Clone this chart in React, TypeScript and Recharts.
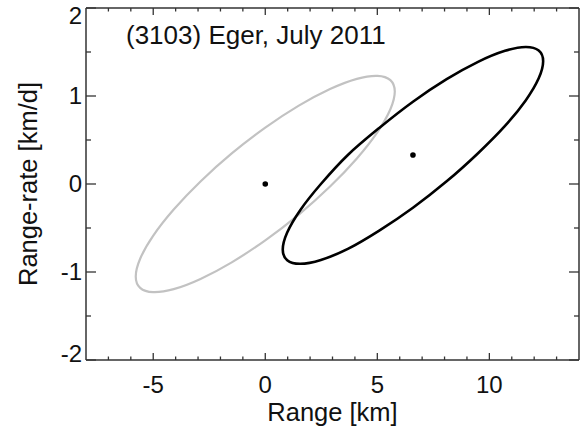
import { ComposedChart, Line, Scatter, XAxis, YAxis } from 'recharts'

// ellipse outlines, [range km, range-rate km/d]
const grayOutline: [number, number][] = [
  [5.78, 1.05], [5.583, 1.18], [5.006, 1.229], [4.087, 1.195], [2.89, 1.079],
  [1.496, 0.89], [0, 0.64], [-1.496, 0.347], [-2.89, 0.029], [-4.087, -0.29],
  [-5.006, -0.589], [-5.583, -0.849], [-5.78, -1.05], [-5.583, -1.18], [-5.006, -1.229],
  [-4.087, -1.195], [-2.89, -1.079], [-1.496, -0.89], [0, -0.64], [1.496, -0.347],
  [2.89, -0.029], [4.087, 0.29], [5.006, 0.589], [5.583, 0.849],
]

const blackOutline: [number, number][] = [
  [12.4, 1.395], [12.202, 1.516], [11.621, 1.557], [10.698, 1.513], [9.495, 1.388],
  [8.094, 1.191], [6.59, 0.935], [5.086, 0.637], [3.685, 0.33], [2.482, 0.0],
  [1.559, -0.297], [0.978, -0.551], [0.78, -0.745], [0.978, -0.866], [1.559, -0.907],
  [2.482, -0.863], [3.685, -0.738], [5.086, -0.53], [6.59, -0.27], [8.094, 0.03],
  [9.495, 0.35], [10.698, 0.66], [11.621, 0.95], [12.202, 1.201],
]

const centerX = [0, 6.59]
const centerY = [0, 0.33]

const xTicks = [-7, -6, -5, -4, -3, -2, -1, 0, 1, 2, 3, 4, 5, 6, 7, 8, 9, 10, 11, 12, 13]
const xLabels = [-5, 0, 5, 10]
const yTicks = [-2, -1.5, -1, -0.5, 0, 0.5, 1, 1.5, 2]
const yLabels = [-2, -1, 0, 1, 2]

const AXIS = '#333'
const TEXT = '#111'
const FONT = '"Liberation Sans", Arial, Helvetica, sans-serif'

const toRows = (pts: [number, number][]) => pts.map(([x, y]) => ({ x, y }))
const centers = centerX.map((x, i) => ({ x, y: centerY[i] }))

// closed catmull-rom, so the outline goes through every point and comes back smooth
const closedSpline = (context: any) => {
  let pts: number[][] = []
  return {
    areaStart() {},
    areaEnd() {},
    lineStart() {
      pts = []
    },
    point(x: number, y: number) {
      pts.push([x, y])
    },
    lineEnd() {
      const n = pts.length
      if (!n)
        return
      context.moveTo(pts[0][0], pts[0][1])
      for (let i = 0; i < n; i++) {
        const p0 = pts[(i + n - 1) % n]
        const p1 = pts[i]
        const p2 = pts[(i + 1) % n]
        const p3 = pts[(i + 2) % n]
        context.bezierCurveTo(
          p1[0] + (p2[0] - p0[0]) / 6,
          p1[1] + (p2[1] - p0[1]) / 6,
          p2[0] - (p3[0] - p1[0]) / 6,
          p2[1] - (p3[1] - p1[1]) / 6,
          p2[0],
          p2[1],
        )
      }
      context.closePath()
    },
  }
}

const BottomTick = ({ x, y, payload }: any) => {
  const major = xLabels.includes(payload.value)
  return (
    <g>
      <line x1={x} x2={x} y1={y} y2={y - (major ? 7 : 3.5)} stroke={AXIS} strokeWidth={1.3} />
      {major && (
        <text x={x} y={y + 33} textAnchor="middle" fontSize={24} fill={TEXT}>
          {String(payload.value)}
        </text>
      )}
    </g>
  )
}

const TopTick = ({ x, y, payload }: any) => {
  const major = xLabels.includes(payload.value)
  return <line x1={x} x2={x} y1={y} y2={y + (major ? 7 : 3.5)} stroke={AXIS} strokeWidth={1.3} />
}

const LeftTick = ({ x, y, payload }: any) => {
  const major = yLabels.includes(payload.value)
  // the end labels sit a little inside the frame, as in the original
  const nudge = payload.value === 2 ? 8 : payload.value === -2 ? -6 : 0
  return (
    <g>
      <line x1={x} x2={x + (major ? 10 : 5)} y1={y} y2={y} stroke={AXIS} strokeWidth={1.3} />
      {major && (
        <text x={x - 4} y={y + 8 + nudge} textAnchor="end" fontSize={24} fill={TEXT}>
          {String(payload.value)}
        </text>
      )}
    </g>
  )
}

const RightTick = ({ x, y, payload }: any) => {
  const major = yLabels.includes(payload.value)
  return <line x1={x} x2={x - (major ? 10 : 5)} y1={y} y2={y} stroke={AXIS} strokeWidth={1.3} />
}

export default function App() {
  const axisLine = { stroke: AXIS, strokeWidth: 1.5 }
  return (
    <div style={{ position: 'relative', width: 581, height: 429, fontFamily: FONT, background: '#fff' }}>
      <style>{'body{margin:0}'}</style>
      <ComposedChart width={581} height={429} margin={{ top: 0, right: 0, bottom: 0, left: 0 }}>
        <XAxis
          xAxisId="bottom"
          dataKey="x"
          type="number"
          domain={[-8, 14]}
          allowDataOverflow
          ticks={xTicks}
          interval={0}
          height={69}
          tickSize={0}
          tickMargin={0}
          tick={<BottomTick />}
          tickLine={false}
          axisLine={axisLine}
          label={{ value: 'Range [km]', position: 'center', dy: 17.5, fontSize: 25.5, fill: TEXT }}
        />
        <XAxis
          xAxisId="top"
          orientation="top"
          dataKey="x"
          type="number"
          domain={[-8, 14]}
          allowDataOverflow
          ticks={xTicks}
          interval={0}
          height={8}
          tickSize={0}
          tickMargin={0}
          tick={<TopTick />}
          tickLine={false}
          axisLine={axisLine}
        />
        <YAxis
          yAxisId="left"
          type="number"
          domain={[-2, 2]}
          allowDataOverflow
          ticks={yTicks}
          interval={0}
          width={86}
          tickSize={0}
          tickMargin={0}
          tick={<LeftTick />}
          tickLine={false}
          axisLine={axisLine}
          label={{ value: 'Range-rate [km/d]', angle: -90, position: 'center', dx: -15.4, fontSize: 25.5, fill: TEXT }}
        />
        <YAxis
          yAxisId="right"
          orientation="right"
          type="number"
          domain={[-2, 2]}
          allowDataOverflow
          ticks={yTicks}
          interval={0}
          width={2}
          tickSize={0}
          tickMargin={0}
          tick={<RightTick />}
          tickLine={false}
          axisLine={axisLine}
        />
        <Line
          xAxisId="bottom"
          yAxisId="left"
          data={toRows(grayOutline)}
          dataKey="y"
          type={closedSpline as any}
          stroke="#c2c2c2"
          strokeWidth={2.2}
          dot={false}
          activeDot={false}
          isAnimationActive={false}
        />
        <Line
          xAxisId="bottom"
          yAxisId="left"
          data={toRows(blackOutline)}
          dataKey="y"
          type={closedSpline as any}
          stroke="#000"
          strokeWidth={2.6}
          dot={false}
          activeDot={false}
          isAnimationActive={false}
        />
        <Scatter
          xAxisId="bottom"
          yAxisId="left"
          data={centers}
          dataKey="y"
          fill="#000"
          isAnimationActive={false}
          shape={(p: any) => <circle cx={p.cx} cy={p.cy} r={2.8} fill="#000" />}
        />
      </ComposedChart>
      <div
        style={{
          position: 'absolute',
          left: 126,
          top: 22,
          fontSize: 26,
          lineHeight: '26px',
          color: TEXT,
          whiteSpace: 'nowrap',
        }}
      >
        (3103) Eger, July 2011
      </div>
    </div>
  )
}
